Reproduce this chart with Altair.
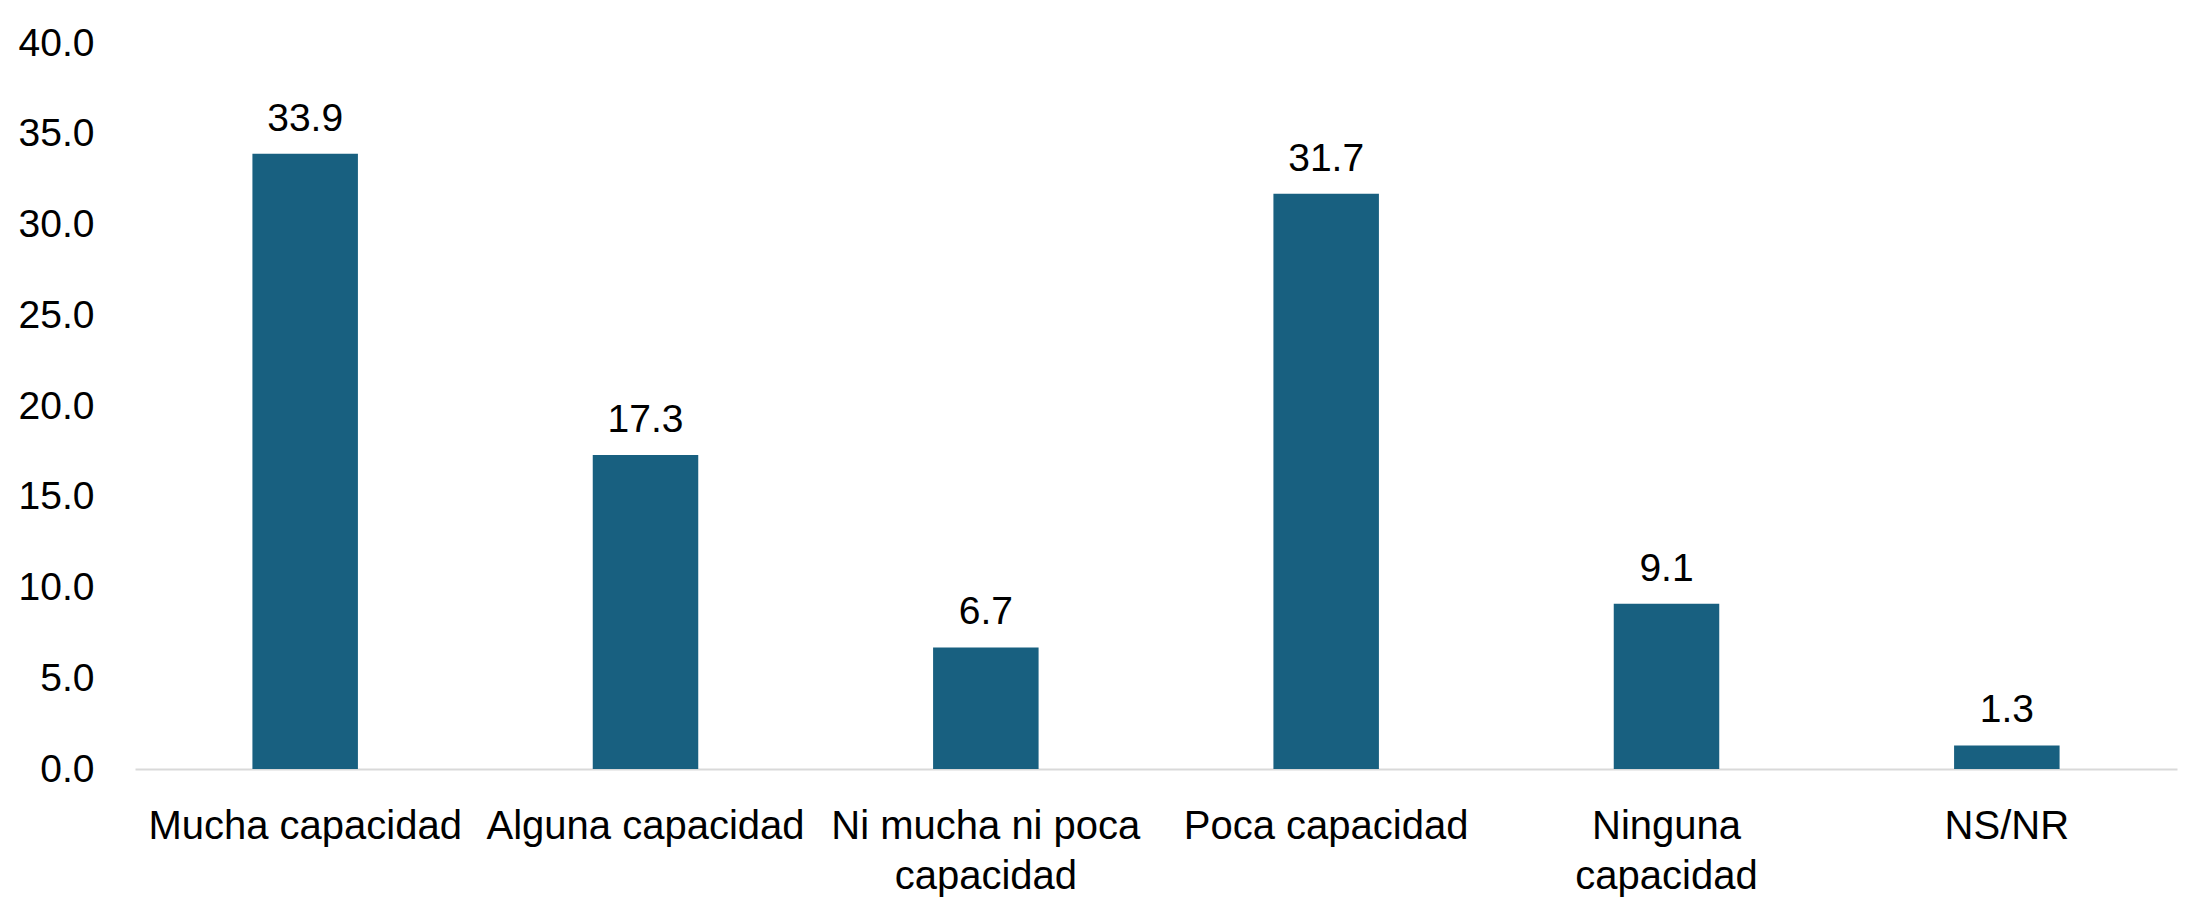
import altair as alt
import pandas as pd

categories = ["Mucha capacidad", "Alguna capacidad", "Ni mucha ni poca|capacidad",
              "Poca capacidad", "Ninguna|capacidad", "NS/NR"]
values = [33.9, 17.3, 6.7, 31.7, 9.1, 1.3]
y_ticks = [0, 5, 10, 15, 20, 25, 30, 35, 40]

df = pd.DataFrame({"cat": categories, "val": values})

FONT = "Liberation Sans"
BAR = "#186080"

x = alt.X("cat:N", sort=categories, title=None,
          scale=alt.Scale(paddingInner=0.69, paddingOuter=0.345),
          axis=alt.Axis(labelExpr="split(datum.value, '|')", labelAngle=0,
                        labelFont=FONT, labelFontSize=40, labelColor="#000000",
                        labelLineHeight=50, labelPadding=37, labelLimit=600,
                        labelOverlap=False, ticks=False,
                        domainColor="#D9D9D9", domainWidth=2))
y = alt.Y("val:Q", title=None,
          scale=alt.Scale(domain=[0, 40], nice=False),
          axis=alt.Axis(values=y_ticks, format=".1f", grid=False, domain=False,
                        ticks=False, labelFont=FONT, labelFontSize=39,
                        labelColor="#000000", labelPadding=41,
                        minExtent=120, maxExtent=120))

bars = alt.Chart(df).mark_bar(color=BAR).encode(x=x, y=y)
labels = alt.Chart(df).mark_text(font=FONT, fontSize=39, color="#000000",
                                 baseline="alphabetic", dy=-23).encode(
    x=alt.X("cat:N", sort=categories),
    y=alt.Y("val:Q"),
    text=alt.Text("val:Q", format=".1f"))

chart = (bars + labels).properties(
    width=2042, height=726, background="white",
    padding={"left": 7, "top": 16, "right": 5, "bottom": 5}
).configure_view(strokeWidth=0, stroke="transparent")

chart.save("out.html", embed_options={"renderer": "svg", "actions": False})
